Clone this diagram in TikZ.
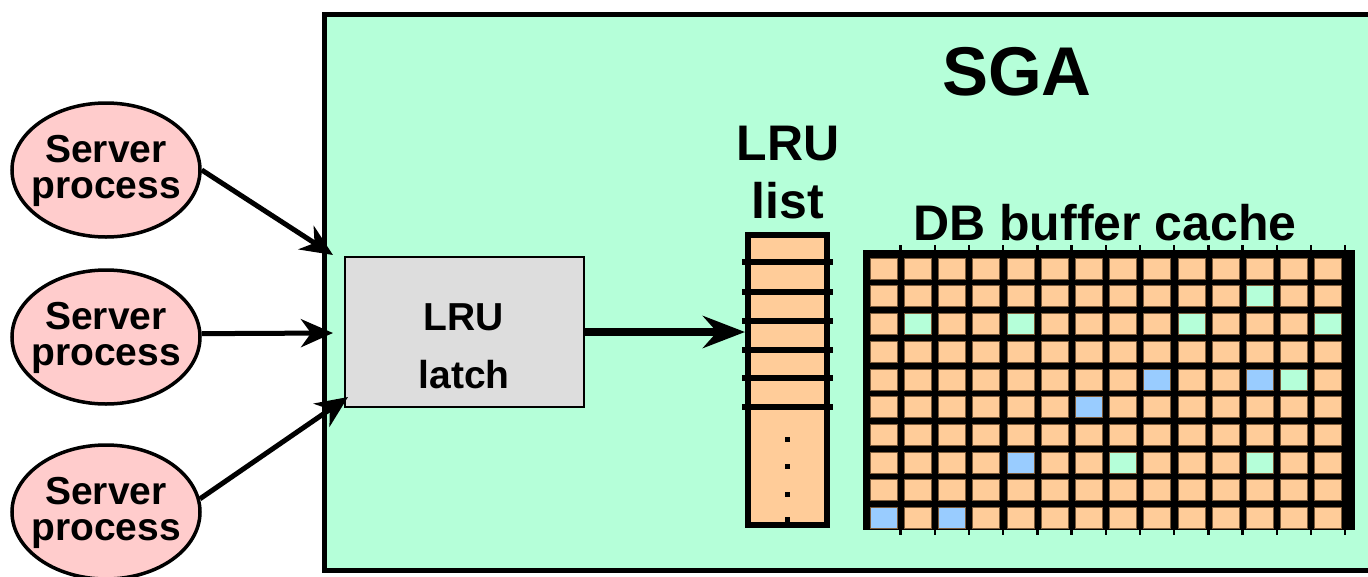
\documentclass[tikz,border=0pt]{standalone}
\usepackage{fontspec}
\setmainfont{Liberation Sans}
\usetikzlibrary{arrows.meta,shapes.geometric}
\definecolor{sgagreen}{HTML}{B5FFD9}
\definecolor{cellorange}{HTML}{FFCC99}
\definecolor{cellblue}{HTML}{99CCFF}
\definecolor{procpink}{HTML}{FFCCCC}
\definecolor{latchgray}{HTML}{DDDDDD}
\definecolor{celledge}{HTML}{7A5A3A}
\begin{document}
\begin{tikzpicture}[x=1pt,y=-1pt,
  sgabox/.style={draw=black,line width=5pt,fill=sgagreen,inner sep=0pt},
  proc/.style={ellipse,draw=black,line width=3.5pt,fill=procpink,minimum width=188pt,minimum height=134pt,inner sep=0pt},
  proctext/.style={anchor=base,font=\fontsize{39}{39}\selectfont\bfseries},
  latchbox/.style={draw=black,line width=1.5pt,fill=latchgray,minimum width=239pt,minimum height=150pt,inner sep=0pt},
  latchtext/.style={anchor=base,font=\fontsize{39}{39}\selectfont\bfseries},
  bigtext/.style={anchor=base,font=\fontsize{50}{50}\selectfont\bfseries},
  listbox/.style={draw=black,line width=6pt,fill=cellorange,minimum width=79pt,minimum height=290pt,inner sep=0pt},
  cachebox/.style={fill=black,minimum width=492pt,minimum height=280pt,inner sep=0pt},
  cell/.style={draw=celledge,line width=0.6pt},
  procarrow/.style={line width=5pt,-{Stealth[length=32pt,width=28pt,inset=10pt]}},
  latcharrow/.style={line width=8pt,-{Stealth[length=42pt,width=32pt,inset=14pt]}}
]
\useasboundingbox (0,0) rectangle (1368,576);
\clip (0,0) rectangle (1368,576);

% SGA area
\node[sgabox,minimum width=1075pt,minimum height=556pt] (sga) at (862,292.5) {};
\node[anchor=base,font=\fontsize{69}{69}\selectfont\bfseries] (sgat) at (1017,95) {SGA};

% server processes
\node[proc] (e1) at (106,170) {};
\node[proc] (e2) at (106,337) {};
\node[proc] (e3) at (106,512) {};
\node[proctext] (e1a) at (106,162) {Server};
\node[proctext] (e1b) at (106,198) {process};
\node[proctext] (e2a) at (106,329) {Server};
\node[proctext] (e2b) at (106,365) {process};
\node[proctext] (e3a) at (106,504) {Server};
\node[proctext] (e3b) at (106,540) {process};

% LRU latch
\node[latchbox] (latch) at (464.5,332) {};
\node[latchtext] (lat1) at (464,330) {LRU};
\node[latchtext] (lat2) at (464,388) {latch};

\coordinate (t1) at (333,255);
\coordinate (t2) at (333,333);
\coordinate (t3) at (348,397);
\draw[procarrow] (e1.east) -- (t1);
\draw[procarrow] (e2.2) -- (t2);
\draw[procarrow] (e3.8) -- (t3);

% LRU list
\node[bigtext] (lru1) at (788,160) {LRU};
\node[bigtext] (lru2) at (788,218) {list};
\node[listbox] (lrulist) at (787.5,380) {};
\foreach \yy in {262,292,321,350,378,407}
  \draw[line width=6pt] (742,\yy) -- (833,\yy);
\foreach \yy in {439,466,494,519}
  \fill (785,\yy-2) rectangle ++(4.5,4.5);

\draw[latcharrow] (latch.east) -- (latch.east -| lrulist.west);

% DB buffer cache
\node[bigtext] (dbt) at (1105,240) {DB buffer cache};
\foreach \i in {1,...,14}
  \draw[line width=2.5pt] (870+34.2*\i-3.6,245) -- (870+34.2*\i-3.6,535);
\node[cachebox] (cache) at (1109,390) {};
\foreach \i in {0,...,13}
  \foreach \j in {0,...,9}
    \draw[cell,fill=cellorange] (870+34.2*\i,258+27.7*\j) rectangle ++(27,21);
\foreach \i/\j in {11/1,1/2,4/2,9/2,13/2,12/4,7/7,11/7}
  \draw[cell,fill=sgagreen] (870+34.2*\i,258+27.7*\j) rectangle ++(27,21);
\foreach \i/\j in {8/4,11/4,6/5,4/7,0/9,2/9}
  \draw[cell,fill=cellblue] (870+34.2*\i,258+27.7*\j) rectangle ++(27,21);
\end{tikzpicture}
\end{document}
